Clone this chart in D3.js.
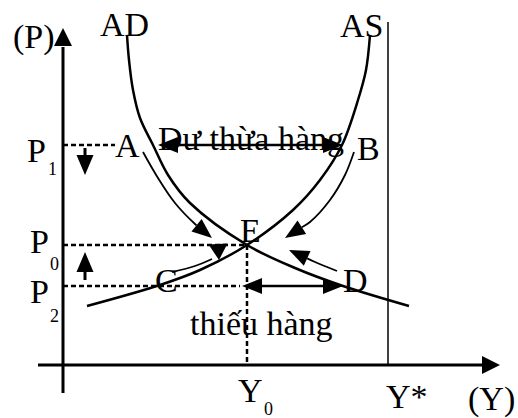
<!DOCTYPE html>
<html><head><meta charset="utf-8">
<script src="https://cdn.jsdelivr.net/npm/d3@7/dist/d3.min.js"></script>
<style>body{margin:0;background:#fff}svg{display:block}text{font-family:"Liberation Serif","Times New Roman",serif;fill:#000}</style>
</head><body><svg id="c" width="518" height="418"></svg>
<script>
// ---- data (chart units: x = output Y, y = price level P) ----
const adCurve = [[64,330],[66,305],[70,275],[77,247],[90,220],[105,190],[127,162],[184,120],[232,97],[280,79],[346,59]];
const asCurve = [[307,330],[303,295],[295,265],[279,220],[257,185],[230,155],[184,120],[137,95],[97,80],[24,59]];
const priceLevels = [{name:"P", sub:"1", value:220}, {name:"P", sub:"0", value:120}, {name:"P", sub:"2", value:79}];
const outputLevels = [{name:"Y", sub:"0", value:184}, {name:"Y*", sub:"", value:325}];
const pointLabels = ["A","B","E","C","D"];
const pointCoords = [[52,208],[294,205],[177,123],[92,73],[280,73]];
const arrowA = [[80,213],[95,187],[112,162],[132,141],[149,127]];
const arrowB = [[291,213],[282,190],[267,165],[247,143],[222,127]];
const arrowD = [[274,94],[252,103],[226,115]];
const arrowC = [[109,93],[132,99],[149,106]];
const texts = ["Dư thừa hàng", "thiếu hàng"];

const svg = d3.select("#c");
const x = d3.scaleLinear().domain([0,437]).range([63,500]);
const y = d3.scaleLinear().domain([0,340]).range([365,25]);
const line = d3.line().x(d=>x(d[0])).y(d=>y(d[1])).curve(d3.curveCatmullRom.alpha(0.5));
const straight = d3.line().x(d=>x(d[0])).y(d=>y(d[1]));

function head(tip, from, len, w){
  const dx = tip[0]-from[0], dy = tip[1]-from[1];
  const L = Math.hypot(dx,dy), ux = dx/L, uy = dy/L;
  const bx = tip[0]-ux*len, by = tip[1]-uy*len;
  const pts = [tip,[bx-uy*w/2, by+ux*w/2],[bx+uy*w/2, by-ux*w/2]];
  svg.append("polygon").attr("points", pts.map(p=>p.join(",")).join(" ")).attr("fill","#000");
  return [bx,by];
}
function px(d){return [x(d[0]), y(d[1])];}

// axes
svg.append("line").attr("x1",x(0)).attr("x2",x(0)).attr("y1",y(-28)).attr("y2",y(318))
  .attr("stroke","#000").attr("stroke-width",3);
head([x(0),y(337)],[x(0),y(300)],18,18);
svg.append("line").attr("x1",x(-25)).attr("x2",x(420)).attr("y1",y(0)).attr("y2",y(0))
  .attr("stroke","#000").attr("stroke-width",3);
head([x(437),y(0)],[x(400),y(0)],18,18);

// Y* line
svg.append("line").attr("x1",x(outputLevels[1].value)).attr("x2",x(outputLevels[1].value))
  .attr("y1",y(0)).attr("y2",y(343)).attr("stroke","#000").attr("stroke-width",1.5);

// dashed guides
const dash = (a,b)=>svg.append("path").attr("d",straight([a,b])).attr("stroke","#000")
  .attr("stroke-width",2.5).attr("stroke-dasharray","5,3").attr("fill","none");
dash([0,priceLevels[0].value],[52,priceLevels[0].value]);
dash([0,priceLevels[1].value],[outputLevels[0].value,priceLevels[1].value]);
dash([0,priceLevels[2].value],[177,priceLevels[2].value]);
dash([outputLevels[0].value,priceLevels[1].value],[outputLevels[0].value,0]);

// curves
svg.append("path").attr("d",line(adCurve)).attr("fill","none").attr("stroke","#000").attr("stroke-width",2.5);
svg.append("path").attr("d",line(asCurve)).attr("fill","none").attr("stroke","#000").attr("stroke-width",2.5);

// double arrows
function dbl(x1,x2,v){
  svg.append("line").attr("x1",x(x1)+15).attr("x2",x(x2)-15).attr("y1",y(v)).attr("y2",y(v))
    .attr("stroke","#000").attr("stroke-width",2.5);
  head([x(x1),y(v)],[x(x2),y(v)],20,16);
  head([x(x2),y(v)],[x(x1),y(v)],20,16);
}
dbl(95,280,priceLevels[0].value);
dbl(179,280,priceLevels[2].value);

// small vertical arrows
function vArrow(xv, y1, y2){
  svg.append("line").attr("x1",x(xv)).attr("x2",x(xv)).attr("y1",y(y1)).attr("y2",y(y2)+(y1>y2?-10:10))
    .attr("stroke","#000").attr("stroke-width",3);
  head([x(xv),y(y2)],[x(xv),y(y1)],20,17);
}
vArrow(22,217,190);
vArrow(22,85,113);

// curved arrows
function curved(pts, len, w){
  const p = pts.map(px);
  const tip = p[p.length-1];
  const b = head(tip, p[p.length-2], len, w);
  const body = pts.slice(0,-1).map(px).concat([b]);
  svg.append("path").attr("d", d3.line().curve(d3.curveCatmullRom)(body)).attr("fill","none")
    .attr("stroke","#000").attr("stroke-width",1.8);
}
curved(arrowA,20,16);
curved(arrowB,20,16);
curved(arrowD,20,16);
svg.append("path").attr("d", d3.line().curve(d3.curveCatmullRom)(arrowC.map(px))).attr("fill","none")
  .attr("stroke","#000").attr("stroke-width",1.8);
head(px([156,105]), px([155,122]), 16, 19);

// text labels
const T = (s,xp,yp,fs)=>svg.append("text").attr("x",xp).attr("y",yp).attr("font-size",fs).text(s);
T("(P)",13,48,34);
T("AD",100,36,34);
T("AS",340,37,34);
const pOff = [[27,17,48,30],[30,8,50,25],[30,17,50,36]];
priceLevels.forEach((p,i)=>{
  T(p.name,pOff[i][0],y(p.value)+pOff[i][1],34);
  T(p.sub,pOff[i][2],y(p.value)+pOff[i][3],18);
});
T(outputLevels[0].name, x(outputLevels[0].value)-9, 402, 34);
T(outputLevels[0].sub, x(outputLevels[0].value)+17, 415, 18);
T(outputLevels[1].name, x(outputLevels[1].value)-2, 408, 34);
T("(Y)",468,410,34);
pointLabels.forEach((l,i)=>T(l, x(pointCoords[i][0]), y(pointCoords[i][1]), 34));
T(texts[0],158,150,34);
T(texts[1],190,335,34);
</script></body></html>
